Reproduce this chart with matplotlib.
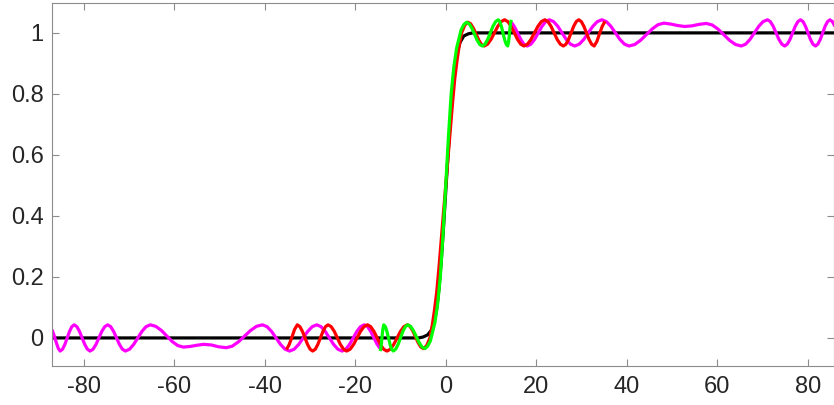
import numpy as np
import matplotlib
matplotlib.use('Agg')
import matplotlib.pyplot as plt

plt.rcParams['font.family'] = ['Liberation Sans', 'DejaVu Sans']
plt.rcParams['axes.unicode_minus'] = False

# --- black step curve ---
black_x = [-87, -6, -5, -4, -3.2, -2.6, -2.0, -1.5, -1.0, -0.5, 0, 0.5, 1.0, 1.5,
           2.0, 2.6, 3.2, 4, 5, 6, 87]
black_y = [0, 0, 0.003, 0.01, 0.025, 0.05, 0.095, 0.16, 0.25, 0.36, 0.48, 0.60,
           0.71, 0.80, 0.88, 0.94, 0.97, 0.99, 0.997, 1.0, 1.0]

# --- magenta, left part (around 0) ---
mag_left_x = [-87.0, -86.5, -86.0, -85.6, -85.2,
              -84.68, -84.17, -83.65, -83.13, -82.62, -82.1,
              -81.52, -80.93, -80.35, -79.77, -79.18, -78.6,
              -77.95, -77.3, -76.65, -76.0, -75.35, -74.7,
              -74.05, -73.4, -72.75, -72.1, -71.45, -70.8,
              -69.88, -68.97, -68.05, -67.13, -66.22, -65.3,
              -64.08, -62.87, -61.65, -60.43, -59.22, -58.0,
              -56.5, -55.0, -53.5,
              -51.8, -50.2, -48.5,
              -47.17, -45.83, -44.5, -43.17, -41.83, -40.5,
              -39.5, -38.5, -37.5, -36.5, -35.5, -34.5,
              -33.5, -32.5, -31.5, -30.5, -29.5, -28.5,
              -27.57, -26.63, -25.7, -24.77, -23.83, -22.9,
              -22.08, -21.27, -20.45, -19.63, -18.82, -18.0,
              -17.3, -16.6, -15.9, -15.2, -14.5]
mag_left_y = [0.027, 0.006, -0.018, -0.035, -0.043,
              -0.037, -0.0215, 0.0, 0.0215, 0.037, 0.043,
              0.037, 0.0215, 0.0, -0.0215, -0.037, -0.043,
              -0.037, -0.0215, 0.0, 0.0215, 0.037, 0.043,
              0.037, 0.0215, 0.0, -0.0215, -0.037, -0.043,
              -0.037, -0.0215, 0.0, 0.0215, 0.037, 0.043,
              0.038, 0.025, 0.0065, -0.012, -0.025, -0.030,
              -0.028, -0.024, -0.021,
              -0.023, -0.029, -0.032,
              -0.027, -0.013, 0.0055, 0.024, 0.038, 0.043,
              0.037, 0.0215, 0.0, -0.0215, -0.037, -0.043,
              -0.037, -0.0215, 0.0, 0.0215, 0.037, 0.043,
              0.037, 0.0215, 0.0, -0.0215, -0.037, -0.043,
              -0.037, -0.0215, 0.0, 0.0215, 0.037, 0.043,
              0.0376, 0.022, 0.001, -0.0196, -0.035]

# --- magenta, right part (around 1) ---
mag_right_x = [14.5, 15.2, 15.9, 16.6, 17.3, 18.0,
               18.82, 19.63, 20.45, 21.27, 22.08, 22.9,
               23.83, 24.77, 25.7, 26.63, 27.57, 28.5,
               29.5, 30.5, 31.5, 32.5, 33.5, 34.5,
               35.5, 36.5, 37.5, 38.5, 39.5, 40.5,
               41.78, 43.07, 44.35, 45.63, 46.92, 48.2,
               49.7, 51.3, 52.8,
               54.4, 56.0, 57.6,
               58.88, 60.17, 61.45, 62.73, 64.02, 65.3,
               66.27, 67.23, 68.2, 69.17, 70.13, 71.1,
               71.73, 72.37, 73.0, 73.63, 74.27, 74.9,
               75.48, 76.07, 76.65, 77.23, 77.82, 78.4,
               78.95, 79.5, 80.05, 80.6, 81.15, 81.7,
               82.23, 82.77, 83.3, 83.83, 84.37, 84.9,
               85.45, 86.0, 86.55]
mag_right_y = [1.035, 1.0196, 0.999, 0.978, 0.9624, 0.957,
               0.963, 0.9785, 1.0, 1.0215, 1.037, 1.043,
               1.037, 1.0215, 1.0, 0.9785, 0.963, 0.957,
               0.963, 0.9785, 1.0, 1.0215, 1.037, 1.043,
               1.037, 1.0215, 1.0, 0.9785, 0.963, 0.957,
               0.962, 0.976, 0.9945, 1.013, 1.027, 1.032,
               1.029, 1.024, 1.021,
               1.023, 1.028, 1.031,
               1.026, 1.0125, 0.994, 0.9755, 0.962, 0.957,
               0.963, 0.9785, 1.0, 1.0215, 1.037, 1.043,
               1.037, 1.0215, 1.0, 0.9785, 0.963, 0.957,
               0.963, 0.9785, 1.0, 1.0215, 1.037, 1.043,
               1.037, 1.0215, 1.0, 0.9785, 0.963, 0.957,
               0.963, 0.9785, 1.0, 1.0215, 1.037, 1.043,
               1.037, 1.0215, 1.0]

# --- red ---
red_x = [-35.2, -34.6, -34.0, -33.4, -32.8,
         -32.23, -31.67, -31.1, -30.53, -29.97, -29.4,
         -28.83, -28.27, -27.7, -27.13, -26.57, -26.0,
         -25.32, -24.63, -23.95, -23.27, -22.58, -21.9,
         -21.13, -20.37, -19.6, -18.83, -18.07, -17.3,
         -16.58, -15.87, -15.15, -14.43, -13.72, -13.0,
         -12.25, -11.5, -10.75, -10.0, -9.25, -8.5,
         -7.9, -7.3, -6.7, -6.1, -5.5, -4.9,
         -4.2, -3.5, -3.0, -2.5, -2.0, -1.5, -1.0, -0.5, 0,
         0.5, 1.0, 1.5, 2.0, 2.5, 3.0, 3.5, 4.2, 4.9,
         5.5, 6.1, 6.7, 7.3, 7.9, 8.5,
         9.25, 10.0, 10.75, 11.5, 12.25, 13.0,
         13.72, 14.43, 15.15, 15.87, 16.58, 17.3,
         18.07, 18.83, 19.6, 20.37, 21.13, 21.9,
         22.58, 23.27, 23.95, 24.63, 25.32, 26.0,
         26.57, 27.13, 27.7, 28.27, 28.83, 29.4,
         29.97, 30.53, 31.1, 31.67, 32.23, 32.8,
         33.4, 34.0, 34.6, 35.2]
red_y = [-0.038, -0.022, 0.002, 0.028, 0.043,
         0.037, 0.0215, 0.0, -0.0215, -0.037, -0.043,
         -0.037, -0.0215, 0.0, 0.0215, 0.037, 0.043,
         0.037, 0.0215, 0.0, -0.0215, -0.037, -0.043,
         -0.037, -0.0215, 0.0, 0.0215, 0.037, 0.043,
         0.037, 0.0215, 0.0, -0.0215, -0.037, -0.043,
         -0.037, -0.0215, 0.0, 0.0215, 0.037, 0.043,
         0.038, 0.0235, 0.004, -0.0155, -0.030, -0.035,
         -0.025, 0.0, 0.04, 0.09, 0.15, 0.23, 0.32, 0.41, 0.5,
         0.59, 0.68, 0.77, 0.85, 0.91, 0.96, 1.0, 1.025, 1.035,
         1.030, 1.0155, 0.996, 0.9765, 0.962, 0.957,
         0.963, 0.9785, 1.0, 1.0215, 1.037, 1.043,
         1.037, 1.0215, 1.0, 0.9785, 0.963, 0.957,
         0.963, 0.9785, 1.0, 1.0215, 1.037, 1.043,
         1.037, 1.0215, 1.0, 0.9785, 0.963, 0.957,
         0.963, 0.9785, 1.0, 1.0215, 1.037, 1.043,
         1.037, 1.0215, 1.0, 0.9785, 0.963, 0.957,
         0.972, 0.998, 1.022, 1.038]

# --- green ---
green_x = [-14.5, -14.35, -14.2, -14.05, -13.9, -13.7,
           -13.35, -13.0, -12.65, -12.3, -11.95, -11.6,
           -11.07, -10.53, -10.0, -9.47, -8.93, -8.4,
           -7.77, -7.13, -6.5, -5.87, -5.23, -4.6,
           -4.0, -3.4, -2.9, -2.4, -1.8, -1.2, -0.6, 0,
           0.6, 1.2, 1.8, 2.4, 2.9, 3.4, 4.0, 4.6,
           5.18, 5.77, 6.35, 6.93, 7.52, 8.1,
           8.68, 9.27, 9.85, 10.43, 11.02, 11.6,
           11.95, 12.3, 12.65, 13.0, 13.35, 13.7,
           13.9, 14.05, 14.2, 14.35, 14.5]
green_y = [-0.043, -0.035, -0.016, 0.008, 0.028, 0.043,
           0.037, 0.0215, 0.0, -0.0215, -0.037, -0.043,
           -0.037, -0.0215, 0.0, 0.0215, 0.037, 0.043,
           0.038, 0.0235, 0.004, -0.0155, -0.030, -0.035,
           -0.027, -0.01, 0.02, 0.05, 0.11, 0.20, 0.34, 0.5,
           0.66, 0.80, 0.89, 0.95, 0.98, 1.01, 1.027, 1.035,
           1.030, 1.0155, 0.996, 0.9765, 0.962, 0.957,
           0.963, 0.9785, 1.0, 1.0215, 1.037, 1.043,
           1.037, 1.0215, 1.0, 0.9785, 0.963, 0.957,
           0.972, 0.992, 1.016, 1.035, 1.043]

xticks = [-80, -60, -40, -20, 0, 20, 40, 60, 80]
yticks = [0, 0.2, 0.4, 0.6, 0.8, 1]
ytick_labels = ['0', '0.2', '0.4', '0.6', '0.8', '1']

fig = plt.figure(figsize=(8.34, 4.05), dpi=100)
ax = fig.add_axes([0.0624, 0.0963, 0.9376, 0.8963])

lw = 2.3
style = dict(linewidth=lw, solid_joinstyle='round', solid_capstyle='butt')
ax.plot(black_x, black_y, color='black', **style)
ax.plot(mag_left_x, mag_left_y, color='#ff00ff', **style)
ax.plot(mag_right_x, mag_right_y, color='#ff00ff', **style)
ax.plot(red_x, red_y, color='#ff0000', **style)
ax.plot(green_x, green_y, color='#00ff00', **style)

ax.set_xlim(-87, 85.8)
ax.set_ylim(-0.092, 1.098)
ax.set_xticks(xticks)
ax.set_yticks(yticks)
ax.set_yticklabels(ytick_labels)

for s in ax.spines.values():
    s.set_color('#8c8c8c')
    s.set_linewidth(0.8)
ax.tick_params(direction='in', length=5, width=0.8, color='#8c8c8c',
               labelsize=17, labelcolor='#262626', top=True, right=True)
ax.tick_params(axis='x', pad=7)
ax.tick_params(axis='y', pad=6)

fig.savefig('out.png', dpi=100)
